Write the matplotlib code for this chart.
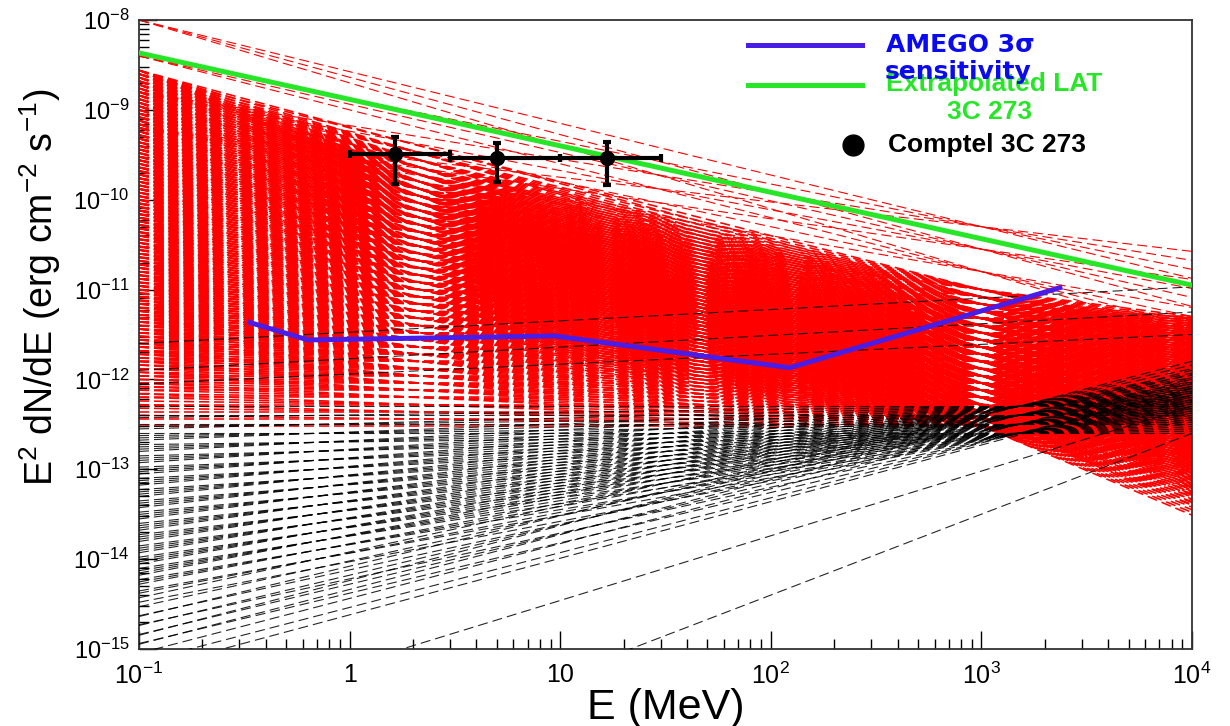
import numpy as np
import matplotlib
matplotlib.use('Agg')
import matplotlib.pyplot as plt
from matplotlib.lines import Line2D

plt.rcParams['font.family'] = ['Liberation Sans', 'DejaVu Sans']
plt.rcParams['mathtext.fontset'] = 'custom'
plt.rcParams['mathtext.rm'] = 'Liberation Sans'
plt.rcParams['mathtext.it'] = 'Liberation Sans:italic'
plt.rcParams['mathtext.bf'] = 'Liberation Sans:bold'
plt.rcParams['mathtext.default'] = 'regular'
plt.rcParams['lines.scale_dashes'] = False

RED = '#ff0000'
GREEN = '#27e627'
AMEGO_COLOR = '#4a1de6'
TEXT_BLUE = '#0a0af0'

# energy range of the plot (MeV); every power-law model is drawn across it
E_EDGES = np.array([0.1, 1e4])

# red model spectra: log10 flux at the 1 GeV pivot crossed with the slope
# of E^2 dN/dE (decades per decade)
RED_PIVOT_E = 1e3
red_pivot_exp = [-12.52, -12.44, -12.36, -12.28, -12.20, -12.12, -12.04,
                 -11.96, -11.88, -11.80, -11.72, -11.64, -11.56, -11.48,
                 -11.40, -11.32, -11.24, -11.16, -11.08, -11.00]
red_slope = [0.0, -0.03, -0.06, -0.09, -0.12, -0.15, -0.18, -0.21, -0.24,
             -0.27, -0.30, -0.33, -0.36, -0.39, -0.42, -0.45, -0.48, -0.51,
             -0.54, -0.57, -0.60, -0.63, -0.66, -0.69, -0.72, -0.75, -0.78,
             -0.81, -0.84, -0.87, -0.90, -0.93, -0.96, -0.99]
# brightest allowed at 0.1 MeV and at 10 GeV for the dense band
RED_MAX_LEFT = -8.55
RED_MAX_RIGHT = -11.3
# a few brighter red models: log10 flux at 0.1 MeV and at 1 GeV
red_top_left_exp = [-9.2, -8.8, -8.4, -8.0]
red_top_mid_exp = [-10.8, -10.55, -10.3]

# black model spectra: log10 flux at the 1.5 GeV pivot crossed with the slope
BLACK_PIVOT_E = 1.5e3
black_pivot_exp = [-12.6, -12.5, -12.4, -12.3]
black_slope = [0.0, 0.03, 0.06, 0.09, 0.12, 0.15, 0.18, 0.21, 0.24, 0.27,
               0.30, 0.33, 0.36, 0.39, 0.42, 0.45, 0.51, 0.56, 0.61]
# isolated black models: log10 flux at 0.1 MeV and at 10 GeV
black_lone_left = [-17.1, -15.9, -15.25, -11.6, -11.9, -12.05]
black_lone_right = [-12.6, -12.3, -12.1, -10.97, -11.25, -11.5]

# AMEGO 3 sigma sensitivity
amego_E = [0.336, 0.635, 9.4, 123, 2360]
amego_flux = [4.3e-12, 2.75e-12, 3.05e-12, 1.35e-12, 1.05e-11]

# extrapolated LAT spectrum of 3C 273
lat_E = [0.1, 1e4]
lat_flux = [4.3e-9, 1.12e-11]

# COMPTEL 3C 273 points
comptel_E = [1.64, 5.0, 16.7]
comptel_E_lo = [1.0, 3.0, 10.0]
comptel_E_hi = [3.0, 10.0, 30.0]
comptel_flux = [3.2e-10, 2.92e-10, 2.92e-10]
comptel_flux_lo = [1.5e-10, 1.58e-10, 1.45e-10]
comptel_flux_hi = [5.0e-10, 4.3e-10, 4.4e-10]


def pivot_line(e_p, exp_p, slope):
    """log10 flux at the plot edges of the power law through (e_p, exp_p)"""
    return exp_p + slope * (np.log10(E_EDGES) - np.log10(e_p))


def line_through(e_a, exp_a, e_b, exp_b):
    s = (exp_b - exp_a) / (np.log10(e_b) - np.log10(e_a))
    return pivot_line(e_a, exp_a, s)


fig = plt.figure(figsize=(12.3, 7.26), dpi=100)
ax = fig.add_axes((139 / 1230, 1 - 649 / 726, 1053 / 1230, 629 / 726))
ax.set_xscale('log')
ax.set_yscale('log')

dash = (0, (7.2, 3.6))

for p in red_pivot_exp:
    for s in red_slope:
        f = pivot_line(RED_PIVOT_E, p, s)
        if f[0] <= RED_MAX_LEFT and f[1] <= RED_MAX_RIGHT:
            ax.plot(E_EDGES, 10 ** f, color=RED, lw=1.15, linestyle=dash,
                    zorder=2)
for lo in red_top_left_exp:
    for mid in red_top_mid_exp:
        ax.plot(E_EDGES, 10 ** line_through(0.1, lo, RED_PIVOT_E, mid),
                color=RED, lw=0.8, linestyle=dash, zorder=2)

for p in black_pivot_exp:
    for s in black_slope:
        ax.plot(E_EDGES, 10 ** pivot_line(BLACK_PIVOT_E, p, s), color='k',
                lw=0.8, linestyle=dash, alpha=0.85, zorder=3)
for lo, hi in zip(black_lone_left, black_lone_right):
    ax.plot(E_EDGES, 10 ** line_through(0.1, lo, 1e4, hi), color='k',
            lw=0.8, linestyle=dash, alpha=0.85, zorder=3)

ax.plot(lat_E, lat_flux, color=GREEN, lw=3.6, zorder=5)
ax.plot(amego_E, amego_flux, color=AMEGO_COLOR, lw=3.6, zorder=6,
        solid_joinstyle='miter')

xerr = [np.subtract(comptel_E, comptel_E_lo), np.subtract(comptel_E_hi, comptel_E)]
yerr = [np.subtract(comptel_flux, comptel_flux_lo),
        np.subtract(comptel_flux_hi, comptel_flux)]
ax.errorbar(comptel_E, comptel_flux, xerr=xerr, yerr=yerr, fmt='o', color='k',
            ms=10, elinewidth=3, capsize=3, capthick=3, zorder=7)

ax.set_xlim(0.1, 1e4)
ax.set_ylim(1e-15, 1e-8)
ax.set_xticks([0.1, 1, 10, 100, 1e3, 1e4])
ax.set_xticklabels(['$10^{-1}$', '1', '10', '$10^{2}$', '$10^{3}$', '$10^{4}$'])
ax.set_yticks([10.0 ** k for k in range(-15, -7)])
ax.set_yticklabels(['$10^{%d}$' % k for k in range(-15, -7)])
ax.tick_params(which='both', direction='in', top=False, right=False, width=1.0)
ax.tick_params(which='major', length=13)
ax.tick_params(which='minor', length=7)
ax.tick_params(axis='x', labelsize=18, pad=10)
ax.tick_params(axis='y', labelsize=17, pad=7)
for sp in ax.spines.values():
    sp.set_linewidth(1.3)
    sp.set_color('#333333')

ax.set_xlabel('E (MeV)', fontsize=31)
ax.xaxis.set_label_coords(0.50, -0.094)
ax.xaxis.label.set_va('center')
ax.set_ylabel('E$^2$ dN/dE (erg cm$^{-2}$ s$^{-1}$)', fontsize=27)
ax.yaxis.set_label_coords(-0.094, 0.575)
ax.yaxis.label.set_va('center')


def fpos(x, y):
    return x / 1230, 1 - y / 726


# hand-placed legend, as in the figure
for (x0, y0), (x1, y1), c in [(fpos(748, 45), fpos(862, 45), AMEGO_COLOR),
                              (fpos(748, 85), fpos(862, 85), GREEN)]:
    fig.add_artist(Line2D([x0, x1], [y0, y1], color=c, lw=3.6,
                          transform=fig.transFigure))
fig.add_artist(Line2D([fpos(853, 145)[0]], [fpos(853, 145)[1]], marker='o',
                      ms=15, color='k', transform=fig.transFigure))
fig.text(*fpos(994, 84), 'Extrapolated LAT', color=GREEN, fontsize=19,
         fontweight='bold', ha='center', va='center')
fig.text(*fpos(990, 112), '3C 273', color=GREEN, fontsize=19,
         fontweight='bold', ha='center', va='center')
fig.text(*fpos(960, 45), 'AMEGO 3σ', color=TEXT_BLUE, fontsize=18,
         fontweight='bold', family='DejaVu Sans', ha='center', va='center')
fig.text(*fpos(958, 72), 'sensitivity', color=TEXT_BLUE, fontsize=18,
         fontweight='bold', family='DejaVu Sans', ha='center', va='center')
fig.text(*fpos(888, 145), 'Comptel 3C 273', color='k', fontsize=19,
         fontweight='bold', ha='left', va='center')

fig.savefig('out.png', dpi=100)
